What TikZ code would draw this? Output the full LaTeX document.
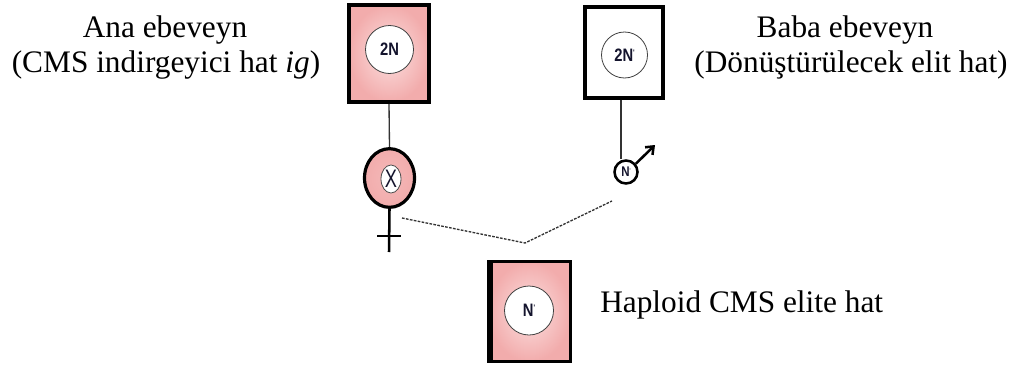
\documentclass[tikz,border=0pt]{standalone}
\usepackage{fontspec}
\setmainfont{Liberation Serif}
\newfontfamily\labelsans{Liberation Sans}
\usetikzlibrary{arrows.meta,shapes.geometric,calc}
\definecolor{pinkout}{RGB}{242,172,172}
\definecolor{pinkin}{RGB}{252,224,224}
\definecolor{inkc}{RGB}{20,20,45}
\newcommand{\narrow}[1]{\scalebox{0.82}[1]{#1}}
\begin{document}
\begin{tikzpicture}[x=0.75pt,y=-0.75pt,
  lbl/.style={font=\fontsize{23.5}{28}\selectfont, inner sep=0pt, anchor=base},
  pinkbox/.style={draw=black, rectangle, inner sep=0pt, shading=radial, inner color=pinkin, outer color=pinkout},
  whitebox/.style={draw=black, rectangle, inner sep=0pt, fill=white},
  cell/.style={draw=black!75, circle, fill=white, inner sep=0pt, line width=0.6pt, text=inkc, font=\labelsans\bfseries\fontsize{13.5}{14}\selectfont},
  thinline/.style={draw=black!80, line width=1pt},
  dashline/.style={draw=black!80, line width=1pt, dash pattern=on 2pt off 1pt},
  symline/.style={draw=black, line width=1.9pt}
]
\useasboundingbox (0,0) rectangle (1013,364);

% boxes
\node[pinkbox, line width=3pt, minimum width=60pt, minimum height=72.75pt] (lbox) at (389,53.5) {};
\node[cell, minimum size=36pt] (lcell) at (389.5,49.5) {\narrow{2N}};

\node[whitebox, line width=2.6pt, minimum width=58.5pt, minimum height=68.25pt] (rbox) at (624,52.5) {};
\node[cell, minimum size=34.5pt] (rcell) at (624.5,55) {\narrow{2N\raisebox{0.6ex}{\fontsize{6}{6}\selectfont'}}};

\node[pinkbox, line width=2.25pt, minimum width=61.5pt, minimum height=75pt] (bbox) at (529.5,311.75) {};
\draw[line width=3.75pt] ([xshift=2.25pt]bbox.north west) -- ([xshift=2.25pt]bbox.south west);
\node[cell, minimum size=36.75pt] (bcell) at (529,310.5) {\narrow{N\raisebox{0.6ex}{\fontsize{6}{6}\selectfont'}}};

% female symbol
\node[draw=black, ellipse, line width=2.4pt, minimum width=37.5pt, minimum height=44pt, inner sep=0pt, shading=radial, inner color=pinkout!85, outer color=pinkout] (fem) at (389.5,178) {};
\node[draw=black!70, ellipse, line width=0.6pt, fill=white, minimum width=15pt, minimum height=21pt, inner sep=0pt, font=\labelsans\fontsize{19}{19}\selectfont, text=inkc] (femx) at (391,179) {\scalebox{0.72}[1]{X}};
\coordinate (femfoot) at (389,252);
\coordinate (crossL) at (377,236);
\coordinate (crossR) at (401,236);
\draw[symline] (fem.south) -- (femfoot);
\draw[symline] (crossL) -- (crossR);

% male symbol
\node[draw=black, circle, line width=1.9pt, minimum size=17.25pt, inner sep=0pt, fill=white, font=\labelsans\bfseries\fontsize{10.5}{10.5}\selectfont, text=inkc] (male) at (626,172) {\narrow{N\raisebox{0.6ex}{\fontsize{4}{4}\selectfont'}}};
\coordinate (arrowtip) at (655,145);
\draw[symline, -{Straight Barb[length=5pt,width=8pt]}] (male.40) -- (arrowtip);

% connectors
\draw[thinline] (lbox.south) -- (fem.north);
\draw[thinline] ([xshift=-2.25pt]rbox.south) -- ([xshift=-3.75pt]male.north);

\coordinate (dstart) at (402,218);
\coordinate (dmid) at (525,243);
\coordinate (dend) at (612,201);
\draw[dashline] (dstart) -- (dmid) -- (dend);

% labels
\node[lbl] (anaA) at (165,37) {Ana ebeveyn};
\node[lbl] (anaB) at (166,72) {(CMS indirgeyici hat \textit{ig})};
\node[lbl] (babaA) at (845,37) {Baba ebeveyn};
\node[lbl] (babaB) at (851,72) {(Dönüştürülecek elit hat)};
\node[lbl, anchor=base west] (hap) at (600,312) {Haploid CMS elite hat};
\end{tikzpicture}
\end{document}
